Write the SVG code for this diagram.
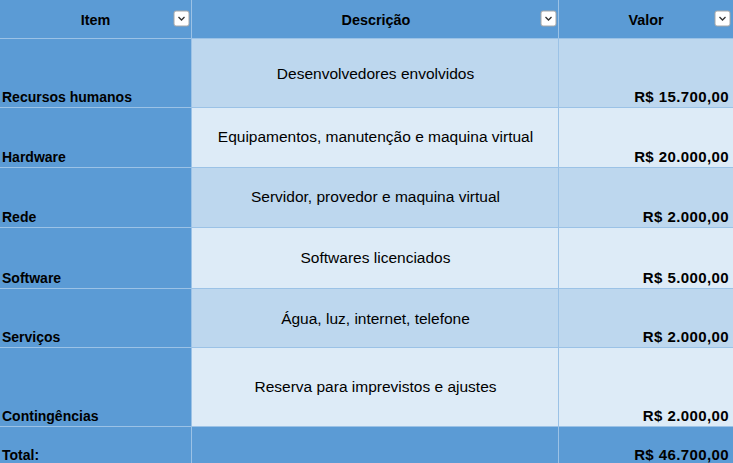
<svg xmlns="http://www.w3.org/2000/svg" width="733" height="463" viewBox="0 0 733 463">
<style>
.hd{fill:#5B9BD5}
.b1{fill:#BDD7EE}
.b2{fill:#DDEBF7}
.t{font-family:"Liberation Sans",Arial,sans-serif;fill:#000}
.h{font-size:14.4px;font-weight:bold}
.lb{font-size:14px;font-weight:bold}
.ds{font-size:15.5px}
.v{font-size:15px;font-weight:bold;letter-spacing:0.4px;text-anchor:end}
.c{text-anchor:middle}
.grid{stroke:#9BC2E6;stroke-width:1;fill:none}
.btn{fill:#FFFFFF;stroke:#A6A6A6;stroke-width:1}
.chev{fill:none;stroke:#333;stroke-width:1.3}
</style>
<defs>
<g id="dd">
<rect class="btn" x="0.5" y="0.5" width="15" height="15" rx="2"/>
<path class="chev" d="M5 6.5 L8 9.5 L11 6.5"/>
</g>
</defs>
<rect x="0" y="0" width="733" height="463" class="hd"/>
<g id="header">
<rect x="0" y="0" width="733" height="38" class="hd"/>
<text class="t h c" x="95.5" y="25">Item</text>
<text class="t h c" x="376" y="25">Descrição</text>
<text class="t h c" x="646" y="25">Valor</text>
<use href="#dd" x="173.5" y="10.5"/>
<use href="#dd" x="540.5" y="10.5"/>
<use href="#dd" x="714.5" y="10.5"/>
</g>
<g id="row-rh">
<rect x="191" y="38" width="542" height="69" class="b1"/>
<text class="t lb" x="2" y="102">Recursos humanos</text>
<text class="t ds c" x="375.5" y="79">Desenvolvedores envolvidos</text>
<text class="t v" x="729" y="102">R$ 15.700,00</text>
</g>
<g id="row-hw">
<rect x="191" y="107" width="542" height="60" class="b2"/>
<text class="t lb" x="2" y="162">Hardware</text>
<text class="t ds c" x="375.5" y="142">Equipamentos, manutenção e maquina virtual</text>
<text class="t v" x="729" y="162">R$ 20.000,00</text>
</g>
<g id="row-rede">
<rect x="191" y="167" width="542" height="60" class="b1"/>
<text class="t lb" x="2" y="222">Rede</text>
<text class="t ds c" x="375.5" y="202">Servidor, provedor e maquina virtual</text>
<text class="t v" x="729" y="222">R$ 2.000,00</text>
</g>
<g id="row-sw">
<rect x="191" y="227" width="542" height="61" class="b2"/>
<text class="t lb" x="2" y="283">Software</text>
<text class="t ds c" x="375.5" y="263">Softwares licenciados</text>
<text class="t v" x="729" y="283">R$ 5.000,00</text>
</g>
<g id="row-serv">
<rect x="191" y="288" width="542" height="59" class="b1"/>
<text class="t lb" x="2" y="342">Serviços</text>
<text class="t ds c" x="375.5" y="324">Água, luz, internet, telefone</text>
<text class="t v" x="729" y="342">R$ 2.000,00</text>
</g>
<g id="row-cont">
<rect x="191" y="347" width="542" height="79" class="b2"/>
<text class="t lb" x="2" y="421">Contingências</text>
<text class="t ds c" x="375.5" y="392">Reserva para imprevistos e ajustes</text>
<text class="t v" x="729" y="421">R$ 2.000,00</text>
</g>
<g id="row-total">
<text class="t lb" x="2" y="460">Total:</text>
<text class="t v" x="729" y="460">R$ 46.700,00</text>
</g>
<g id="connectors">
<path class="grid" d="M191.5 0 V463 M558.5 0 V463 M0 38.5 H733 M0 107.5 H733 M0 167.5 H733 M0 227.5 H733 M0 288.5 H733 M0 347.5 H733 M0 426.5 H733"/>
</g>
</svg>
